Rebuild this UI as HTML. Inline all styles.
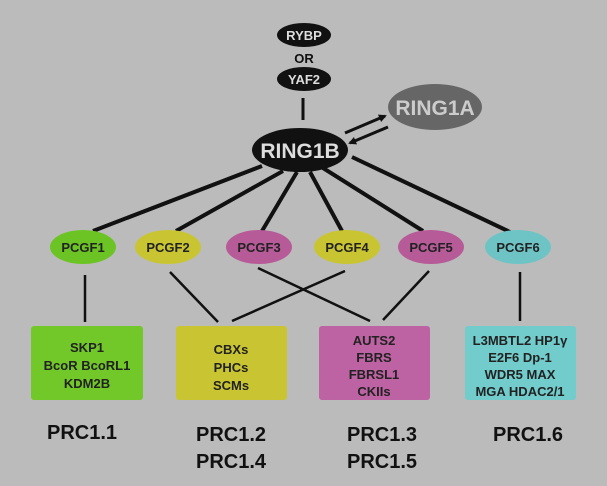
<!DOCTYPE html>
<html><head><meta charset="utf-8"><style>
html,body{margin:0;padding:0;background:#bbbbbb;}
svg{display:block;font-family:"Liberation Sans",sans-serif;font-weight:bold;}
</style></head><body>
<svg width="607" height="486" viewBox="0 0 607 486" xmlns="http://www.w3.org/2000/svg">
<rect width="607" height="486" fill="#bbbbbb"/>
<defs><marker id="ah" markerWidth="8" markerHeight="8" refX="6" refY="4" orient="auto" markerUnits="userSpaceOnUse"><path d="M0,0 L8,4 L0,8 z" fill="#111"/></marker></defs>
<!-- top -->
<ellipse cx="304" cy="35" rx="27" ry="12" fill="#111"/>
<text x="304" y="40" font-size="13" fill="#ddd" text-anchor="middle">RYBP</text>
<text x="304" y="63" font-size="13" fill="#111" text-anchor="middle">OR</text>
<ellipse cx="304" cy="79" rx="27" ry="12" fill="#111"/>
<text x="304" y="84" font-size="13" fill="#ddd" text-anchor="middle">YAF2</text>
<line x1="303" y1="98" x2="303" y2="120" stroke="#111" stroke-width="3"/>
<ellipse cx="300" cy="150" rx="48" ry="22" fill="#111"/>
<text x="300" y="158" font-size="21" fill="#ddd" text-anchor="middle">RING1B</text>
<ellipse cx="435" cy="107" rx="47" ry="23" fill="#666"/>
<text x="435" y="115" font-size="21" fill="#ccc" text-anchor="middle">RING1A</text>
<line x1="345" y1="133" x2="385" y2="116" stroke="#111" stroke-width="3" marker-end="url(#ah)"/>
<line x1="388" y1="127" x2="350" y2="143" stroke="#111" stroke-width="3" marker-end="url(#ah)"/>
<!-- lines to PCGF -->
<g stroke="#111" stroke-width="4">
<line x1="262" y1="166" x2="93" y2="231"/>
<line x1="283" y1="171" x2="176" y2="231"/>
<line x1="297" y1="172" x2="262" y2="231"/>
<line x1="310" y1="172" x2="342" y2="231"/>
<line x1="323" y1="168" x2="423" y2="231"/>
<line x1="352" y1="157" x2="510" y2="232"/>
</g>
<!-- PCGF -->
<g font-size="13" text-anchor="middle" fill="#222">
<ellipse cx="83" cy="247" rx="33" ry="17" fill="#6cc424"/><text x="83" y="252">PCGF1</text>
<ellipse cx="168" cy="247" rx="33" ry="17" fill="#c9c532"/><text x="168" y="252">PCGF2</text>
<ellipse cx="259" cy="247" rx="33" ry="17" fill="#b65a98"/><text x="259" y="252">PCGF3</text>
<ellipse cx="347" cy="247" rx="33" ry="17" fill="#c9c532"/><text x="347" y="252">PCGF4</text>
<ellipse cx="431" cy="247" rx="33" ry="17" fill="#b65a98"/><text x="431" y="252">PCGF5</text>
<ellipse cx="518" cy="247" rx="33" ry="17" fill="#6ec4c4"/><text x="518" y="252">PCGF6</text>
</g>
<g stroke="#111" stroke-width="2.5">
<line x1="85" y1="275" x2="85" y2="322"/>
<line x1="170" y1="272" x2="218" y2="322"/>
<line x1="345" y1="271" x2="232" y2="321"/>
<line x1="258" y1="268" x2="370" y2="321"/>
<line x1="429" y1="271" x2="383" y2="320"/>
<line x1="520" y1="272" x2="520" y2="321"/>
</g>
<!-- boxes -->
<rect x="31" y="326" width="112" height="74" rx="3" fill="#72c828"/>
<rect x="176" y="326" width="111" height="74" rx="3" fill="#c9c532"/>
<rect x="319" y="326" width="111" height="74" rx="3" fill="#bd62a2"/>
<rect x="465" y="326" width="111" height="74" rx="3" fill="#72cccc"/>
<g font-size="13" text-anchor="middle" fill="#222">
<text x="87" y="352">SKP1</text><text x="87" y="370">BcoR BcoRL1</text><text x="87" y="388">KDM2B</text>
<text x="231" y="354">CBXs</text><text x="231" y="372">PHCs</text><text x="231" y="390">SCMs</text>
<text x="374" y="345">AUTS2</text><text x="374" y="362">FBRS</text><text x="374" y="379">FBRSL1</text><text x="374" y="396">CKIIs</text>
<text x="520" y="345">L3MBTL2 HP1γ</text><text x="520" y="362">E2F6 Dp-1</text><text x="520" y="379">WDR5 MAX</text><text x="520" y="396">MGA HDAC2/1</text>
</g>
<g font-size="20" text-anchor="middle" fill="#111">
<text x="82" y="439">PRC1.1</text>
<text x="231" y="441">PRC1.2</text><text x="231" y="468">PRC1.4</text>
<text x="382" y="441">PRC1.3</text><text x="382" y="468">PRC1.5</text>
<text x="528" y="441">PRC1.6</text>
</g>
</svg>
</body></html>
